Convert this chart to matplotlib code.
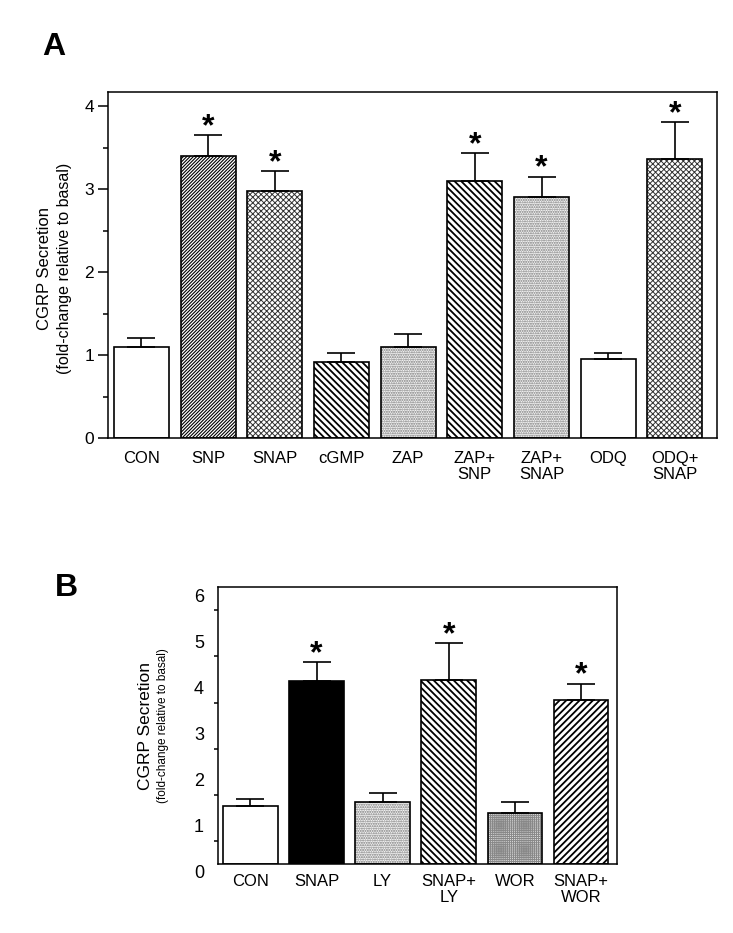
import matplotlib.pyplot as plt
from matplotlib.ticker import MultipleLocator
from matplotlib.transforms import ScaledTranslation

plt.rcParams['font.family'] = ['Liberation Sans', 'DejaVu Sans']

# panel A data
labels_a = ['CON', 'SNP', 'SNAP', 'cGMP', 'ZAP', 'ZAP+\nSNP', 'ZAP+\nSNAP', 'ODQ', 'ODQ+\nSNAP']
vals_a = [1.10, 3.40, 2.98, 0.92, 1.10, 3.10, 2.90, 0.95, 3.36]
errs_a = [0.10, 0.25, 0.24, 0.11, 0.15, 0.33, 0.25, 0.08, 0.45]
sig_a = [False, True, True, False, False, True, True, False, True]

# panel B data
labels_b = ['CON', 'SNAP', 'LY', 'SNAP+\nLY', 'WOR', 'SNAP+\nWOR']
vals_b = [1.26, 3.97, 1.34, 3.99, 1.10, 3.55]
errs_b = [0.15, 0.41, 0.19, 0.80, 0.24, 0.36]
sig_b = [False, True, False, True, False, True]

# fill styles: (facecolor, hatch, hatch colour, hatch linewidth)
style_a = [('white', '', 'k', 1.0), ('white', '//////////', 'k', 0.8),
           ('white', 'xxxxxx', '#333333', 0.7), ('white', '\\\\\\\\\\', 'k', 1.3),
           ('#f6f6f6', '.......', '#777777', 1.0), ('white', '\\\\\\\\\\', 'k', 1.3),
           ('#f6f6f6', '.......', '#777777', 1.0), ('white', '', 'k', 1.0),
           ('white', 'xxxxxx', '#333333', 0.7)]
style_b = [('white', '', 'k', 1.0), ('black', '', 'k', 1.0),
           ('#f6f6f6', '.......', '#777777', 1.0), ('white', '\\\\\\\\\\', 'k', 1.3),
           ('#dddddd', '++++++++', '#888888', 0.7), ('white', '/////', 'k', 1.3)]


def draw_panel(ax, labels, vals, errs, sig, styles, width):
    x = list(range(len(vals)))
    for i in x:
        fc, h, hc, hlw = styles[i]
        with plt.rc_context({'hatch.linewidth': hlw}):
            ax.bar(i, vals[i], width=width, color=fc, hatch=h, edgecolor=hc, linewidth=0, zorder=2)
        ax.bar(i, vals[i], width=width, fill=False, edgecolor='k', linewidth=1.2, zorder=3)
    ax.errorbar(x, vals, yerr=[[0] * len(errs), errs], fmt='none', ecolor='k',
                elinewidth=1.2, capsize=10, capthick=1.2, zorder=4)
    for i in x:
        if sig[i]:
            ax.annotate('*', (i, vals[i] + errs[i]), xytext=(0, -5), textcoords='offset points',
                        ha='center', va='bottom', fontsize=23, fontweight='bold')
    ax.set_xticks(x)
    ax.set_xticklabels(labels, fontsize=12, linespacing=1.15)
    for s in ax.spines.values():
        s.set_linewidth(1.1)


fig = plt.figure(figsize=(7.33, 9.33), dpi=100)

axA = fig.add_axes([0.1473, 0.5305, 0.8308, 0.3709])
draw_panel(axA, labels_a, vals_a, errs_a, sig_a, style_a, 0.825)
axA.set_xlim(-0.5, 8.63)
axA.set_ylim(0, 4.17)
axA.set_yticks([0, 1, 2, 3, 4])
axA.yaxis.set_minor_locator(MultipleLocator(0.5))
axA.tick_params(axis='y', which='major', length=7, width=1.1, pad=3, labelsize=12.5)
axA.tick_params(axis='y', which='minor', length=3.5, width=1.1)
axA.tick_params(axis='x', length=0, pad=9)
axA.text(-0.105, 0.49, 'CGRP Secretion', transform=axA.transAxes, rotation=90,
         ha='center', va='center', fontsize=12)
axA.text(-0.071, 0.49, '(fold-change relative to basal)', transform=axA.transAxes, rotation=90,
         ha='center', va='center', fontsize=11.5)

axB = fig.add_axes([0.2974, 0.0740, 0.5448, 0.2965])
draw_panel(axB, labels_b, vals_b, errs_b, sig_b, style_b, 0.826)
axB.set_xlim(-0.49, 5.55)
axB.set_ylim(0, 6)
axB.set_yticks([0, 1, 2, 3, 4, 5, 6])
axB.yaxis.set_minor_locator(MultipleLocator(0.5))
axB.tick_params(axis='y', which='major', length=0, pad=10, labelsize=13)
axB.tick_params(axis='y', which='minor', length=3, width=1.1)
axB.tick_params(axis='x', length=0, pad=7)
for lab in axB.get_yticklabels():
    lab.set_transform(lab.get_transform() + ScaledTranslation(0, -0.08, fig.dpi_scale_trans))
axB.text(-0.182, 0.5, 'CGRP Secretion', transform=axB.transAxes, rotation=90,
         ha='center', va='center', fontsize=12.5)
axB.text(-0.137, 0.5, '(fold-change relative to basal)', transform=axB.transAxes, rotation=90,
         ha='center', va='center', fontsize=8.5)

fig.text(54 / 733, 1 - 47 / 933, 'A', fontsize=23, fontweight='bold', ha='center', va='center')
fig.text(66 / 733, 1 - 588 / 933, 'B', fontsize=23, fontweight='bold', ha='center', va='center')

fig.savefig('out.png', dpi=100)
